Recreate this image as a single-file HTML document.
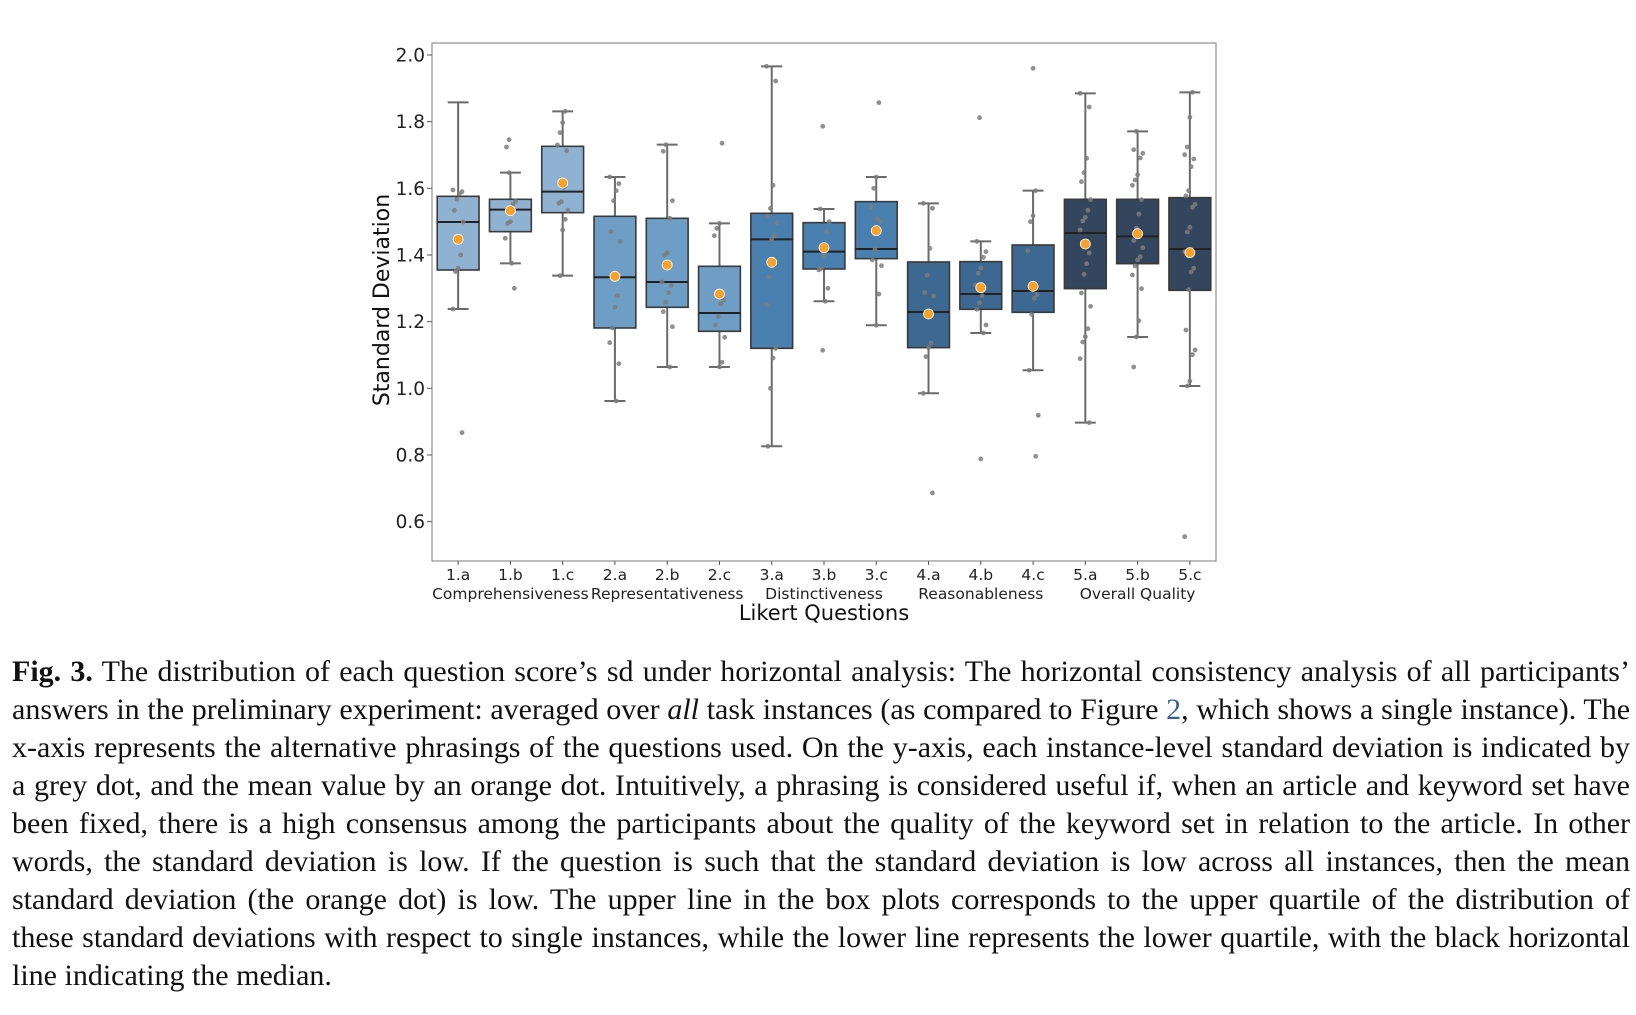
<!DOCTYPE html>
<html><head><meta charset="utf-8"><style>
body{margin:0;width:1636px;height:1015px;background:#fff;overflow:hidden;position:relative;font-family:"DejaVu Sans","Liberation Sans",sans-serif}
#chart{position:absolute;left:0;top:0}
#caption{position:absolute;left:12px;width:1618px;top:653px;font-family:"Liberation Serif",serif;font-size:30px;line-height:38px;color:#111}
#caption div{text-align:justify;text-align-last:justify;white-space:nowrap}
#caption div.last{text-align-last:left}
</style></head><body>
<svg id="chart" width="1636" height="640" xmlns="http://www.w3.org/2000/svg"></svg>
<div id="caption">
<div><b>Fig. 3.</b> The distribution of each question score’s sd under horizontal analysis: The horizontal consistency analysis of all participants’</div>
<div>answers in the preliminary experiment: averaged over <i>all</i> task instances (as compared to Figure <span style="color:#3a5f9a">2</span>, which shows a single instance). The</div>
<div>x-axis represents the alternative phrasings of the questions used. On the y-axis, each instance-level standard deviation is indicated by</div>
<div>a grey dot, and the mean value by an orange dot. Intuitively, a phrasing is considered useful if, when an article and keyword set have</div>
<div>been fixed, there is a high consensus among the participants about the quality of the keyword set in relation to the article. In other</div>
<div>words, the standard deviation is low. If the question is such that the standard deviation is low across all instances, then the mean</div>
<div>standard deviation (the orange dot) is low. The upper line in the box plots corresponds to the upper quartile of the distribution of</div>
<div>these standard deviations with respect to single instances, while the lower line represents the lower quartile, with the black horizontal</div>
<div class="last">line indicating the median.</div>
</div>
<script>
const categories=["1.a","1.b","1.c","2.a","2.b","2.c","3.a","3.b","3.c","4.a","4.b","4.c","5.a","5.b","5.c"];
const groupLabels=["Comprehensiveness","Representativeness","Distinctiveness","Reasonableness","Overall Quality"];
const whiskerHigh=[1.858,1.647,1.831,1.634,1.731,1.495,1.966,1.538,1.634,1.555,1.441,1.593,1.885,1.771,1.888];
const q3=[1.576,1.567,1.726,1.516,1.510,1.366,1.525,1.497,1.560,1.379,1.380,1.430,1.567,1.567,1.572];
const medians=[1.499,1.536,1.590,1.333,1.319,1.226,1.447,1.410,1.418,1.229,1.283,1.292,1.466,1.456,1.418];
const q1=[1.355,1.470,1.527,1.181,1.243,1.171,1.120,1.358,1.389,1.122,1.237,1.228,1.299,1.374,1.294];
const whiskerLow=[1.238,1.375,1.338,0.962,1.064,1.064,0.826,1.261,1.189,0.985,1.166,1.054,0.897,1.154,1.007];
const means=[1.447,1.533,1.616,1.336,1.370,1.283,1.378,1.422,1.473,1.223,1.302,1.306,1.433,1.464,1.407];
const points=[
[1.595,1.59,1.583,1.567,1.534,1.499,1.40,1.36,1.35,1.238,0.867],
[1.746,1.724,1.561,1.552,1.500,1.495,1.450,1.30,1.375,1.647],
[1.831,1.797,1.767,1.730,1.713,1.603,1.560,1.555,1.534,1.507,1.475,1.338],
[1.634,1.614,1.593,1.563,1.470,1.440,1.278,1.243,1.181,1.137,1.074,0.962],
[1.731,1.711,1.563,1.510,1.406,1.400,1.319,1.308,1.287,1.258,1.230,1.185,1.064],
[1.735,1.495,1.480,1.458,1.265,1.254,1.215,1.190,1.153,1.078,1.064],
[1.966,1.922,1.609,1.540,1.515,1.497,1.459,1.447,1.334,1.250,1.120,1.091,1.000,0.826],
[1.786,1.538,1.500,1.470,1.400,1.360,1.355,1.300,1.261,1.114],
[1.857,1.634,1.600,1.545,1.500,1.510,1.417,1.385,1.368,1.283,1.189],
[1.555,1.540,1.420,1.339,1.288,1.277,1.136,1.122,1.095,0.985,0.686],
[1.812,1.441,1.410,1.393,1.361,1.345,1.310,1.299,1.278,1.257,1.237,1.190,1.166,0.788],
[1.593,1.518,1.500,1.413,1.281,1.270,1.222,1.054,0.919,0.796,1.960],
[1.885,1.844,1.690,1.647,1.620,1.566,1.534,1.513,1.502,1.475,1.406,1.374,1.342,1.286,1.246,1.179,1.155,1.139,1.089,0.897],
[1.771,1.716,1.705,1.691,1.641,1.625,1.609,1.566,1.523,1.480,1.443,1.422,1.395,1.385,1.367,1.340,1.299,1.203,1.154,1.064],
[1.888,1.813,1.724,1.701,1.688,1.665,1.593,1.577,1.552,1.543,1.483,1.469,1.410,1.360,1.349,1.296,1.175,1.115,1.101,1.021,1.007,0.555]
];
const yTicks=[0.6,0.8,1.0,1.2,1.4,1.6,1.8,2.0];
const groupColors=["#8fb2d3","#6e9dc6","#4a80af","#3d6891","#34465e"];

const svg=document.getElementById('chart');
const NS="http://www.w3.org/2000/svg";
const L=432,R=1216,T=43,B=561;
const bw=(R-L)/categories.length;
function xScale(i){return L+bw*(i+0.5);}
function yScale(v){return 55+(2.0-v)*333.3;}
function mk(tag,attrs,parent){const e=document.createElementNS(NS,tag);for(const k in attrs)e.setAttribute(k,attrs[k]);(parent||svg).appendChild(e);return e;}

const frame=mk('rect',{x:L,y:T,width:R-L,height:B-T,fill:'none',stroke:'#999','stroke-width':1.3});



yTicks.forEach(v=>{
  const y=yScale(v);
  const tk=mk('line',{x1:L-5,x2:L,y1:y,y2:y,stroke:'#555','stroke-width':1});
  
  
  const t=mk('text',{x:L-7,y:y+6.5,'text-anchor':'end','font-size':18.5,fill:'#222'});
  t.textContent=v.toFixed(1);
  
  
});

categories.forEach((c,i)=>{
  const x=xScale(i);
  const g=mk('g',{});
  
  
  const col=groupColors[Math.floor(i/3)];
  const hw=bw*0.4;
  mk('line',{x1:x,x2:x,y1:yScale(whiskerHigh[i]),y2:yScale(q3[i]),stroke:'#6b6b6b','stroke-width':2},g);
  mk('line',{x1:x,x2:x,y1:yScale(q1[i]),y2:yScale(whiskerLow[i]),stroke:'#6b6b6b','stroke-width':2},g);
  mk('line',{x1:x-hw/2,x2:x+hw/2,y1:yScale(whiskerHigh[i]),y2:yScale(whiskerHigh[i]),stroke:'#6b6b6b','stroke-width':2},g);
  mk('line',{x1:x-hw/2,x2:x+hw/2,y1:yScale(whiskerLow[i]),y2:yScale(whiskerLow[i]),stroke:'#6b6b6b','stroke-width':2},g);
  mk('rect',{x:x-hw,y:yScale(q3[i]),width:2*hw,height:yScale(q1[i])-yScale(q3[i]),fill:col,stroke:'#3a3a3a','stroke-width':1.6},g);
  mk('line',{x1:x-hw,x2:x+hw,y1:yScale(medians[i]),y2:yScale(medians[i]),stroke:'#222','stroke-width':2},g);
  points[i].forEach((v,j)=>{
    const jit=(((j*7+i*3)%9)-4)*1.3;
    const p=mk('circle',{cx:x+jit,cy:yScale(v),r:2.4,fill:'#7d7d7d','fill-opacity':0.85},g);
    
    
  });
  const m=mk('circle',{cx:x,cy:yScale(means[i]),r:5,fill:'#f8a22a',stroke:'#fff','stroke-width':0.8},g);
  
  
  const tk=mk('line',{x1:x,x2:x,y1:B,y2:B+4,stroke:'#555','stroke-width':1});
  
  
  const t=mk('text',{x:x,y:580,'text-anchor':'middle','font-size':15.5,fill:'#222'});
  t.textContent=c;
  
  
});
groupLabels.forEach((gname,k)=>{
  const t=mk('text',{x:xScale(k*3+1),y:599,'text-anchor':'middle','font-size':15.5,fill:'#222'});
  t.textContent=gname;
  
  
});
const xt=mk('text',{x:(L+R)/2,y:620,'text-anchor':'middle','font-size':21,fill:'#111'});
xt.textContent='Likert Questions';


const yt=mk('text',{x:0,y:0,'text-anchor':'middle','font-size':22,fill:'#111',transform:'translate(389,300) rotate(-90)'});
yt.textContent='Standard Deviation';


</script>
</body></html>
